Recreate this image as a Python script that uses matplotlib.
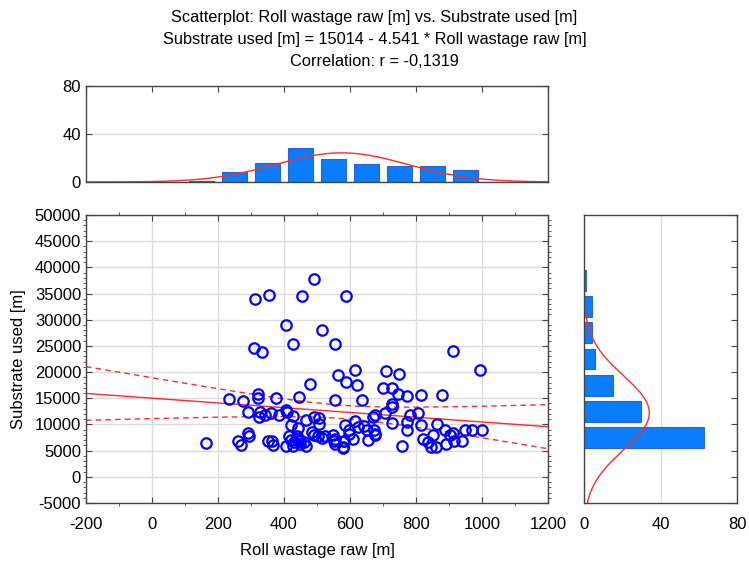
import numpy as np
import matplotlib.pyplot as plt
from matplotlib.ticker import MultipleLocator

plt.rcParams['font.family'] = ['Liberation Sans', 'DejaVu Sans']
plt.rcParams['axes.unicode_minus'] = False

# Roll wastage raw [m]
wastage = np.array([
    492, 312, 355, 455, 588, 407, 514, 427, 556, 310, 334, 912, 993, 616, 709,
    749, 565, 589, 480, 621, 700, 726, 746, 774, 814, 879, 320, 320, 375, 447,
    233, 276, 556, 636, 726, 728, 705, 675, 671, 781, 805, 616, 290, 326, 324,
    344, 361, 386, 407, 410, 426, 468, 492, 505, 505, 773, 728, 863,
    584, 624, 643, 653, 672, 677, 598, 773, 816, 889, 911, 948, 971, 1000,
    582, 580, 609, 655, 675, 822, 837, 847, 860, 853, 890, 914, 940, 903, 757,
    422, 442, 485, 165, 260, 269, 292, 294, 351, 365, 367, 405, 414, 420, 427,
    438, 446, 462, 468, 491, 503, 523, 549, 551, 555, 581, 578,
    440, 448, 430, 448, 555, 515, 598,
])
# Substrate used [m]
substrate = np.array([
    37800, 34000, 34700, 34500, 34500, 28900, 28000, 25300, 25300, 24600, 23800,
    24000, 20400, 20400, 20200, 19650, 19500, 18100, 17700, 17600, 16900, 16900,
    15800, 15500, 15600, 15600, 15800, 15000, 15000, 15300, 14900, 14550, 14700,
    14700, 13900, 13300, 12150, 11800, 11500, 11800, 12150, 10750, 12300, 12300,
    11500, 11850, 12200, 11850, 12800, 12350, 11650, 10900, 11500, 11200, 10100,
    10500, 10200, 10000,
    9850, 9600, 9700, 8850, 9000, 8200, 8850, 8850, 9850, 9000, 8350, 9000, 9000,
    9000, 6800, 5550, 7200, 7050, 7950, 7200, 6700, 5650, 5650, 7950, 6250, 6900,
    6900, 8050, 5800, 9800, 9400, 8600, 6550, 6900, 6050, 8400, 7800, 6900, 6900,
    6050, 5800, 7700, 7050, 5900, 7700, 6750, 6600, 5800, 7950, 7800, 7800, 7950,
    6750, 6250, 6750, 5600,
    7300, 7100, 6600, 6200, 7300, 7400, 8200,
])

# histogram of wastage, 100 m bins
wastage_bins = [150, 250, 350, 450, 550, 650, 750, 850, 950]
wastage_counts = [1, 8, 16, 28, 19, 15, 13, 13, 10]
# histogram of substrate, 5000 m bins
substrate_bins = [7500, 12500, 17500, 22500, 27500, 32500, 37500]
substrate_counts = [63, 30, 15, 6, 4, 4, 1]

intercept, slope = 15014, -4.541

bar_face = '#0a7dff'
bar_edge = '#2a62d8'
red = '#ff2a2a'
grid_c = '#dcdcdc'
spine_c = '#444444'


def style(ax):
    for s in ax.spines.values():
        s.set_color(spine_c)
        s.set_linewidth(1.0)
    ax.tick_params(direction='in', colors=spine_c, labelcolor='black', labelsize=12)
    ax.set_axisbelow(True)


fig = plt.figure(figsize=(7.49, 5.62), dpi=100)
ax = fig.add_axes([0.1148, 0.105, 0.6168, 0.5125])
ax_top = fig.add_axes([0.1148, 0.6762, 0.6168, 0.1708])
ax_right = fig.add_axes([0.7797, 0.105, 0.2043, 0.5125])

# main scatter
xs = np.linspace(-200, 1200, 200)
fit = intercept + slope * xs
n = len(wastage)
resid = substrate - (intercept + slope * wastage)
s = np.sqrt(np.sum(resid ** 2) / (n - 2))
sxx = np.sum((wastage - wastage.mean()) ** 2)
half = 1.98 * s * np.sqrt(1 / n + (xs - wastage.mean()) ** 2 / sxx)

ax.plot(wastage, substrate, 'o', mfc='none', mec='#0000ff', mew=1.6, ms=7.5, zorder=3)
ax.plot(xs, fit, color=red, lw=1)
ax.plot(xs, fit + half, color=red, lw=1, ls=(0, (4, 3)))
ax.plot(xs, fit - half, color=red, lw=1, ls=(0, (4, 3)))
ax.set_xlim(-200, 1200)
ax.set_ylim(-5000, 50000)
ax.xaxis.set_major_locator(MultipleLocator(200))
ax.xaxis.set_minor_locator(MultipleLocator(100))
ax.yaxis.set_major_locator(MultipleLocator(5000))
ax.yaxis.set_minor_locator(MultipleLocator(1000))
ax.grid(True, color=grid_c, lw=1)
style(ax)
ax.tick_params(which='both', top=True, right=True)
ax.tick_params(which='major', length=4)
ax.tick_params(which='minor', length=2, color=spine_c)
ax.tick_params(axis='x', pad=10)
ax.set_xlabel('Roll wastage raw [m]', fontsize=12, labelpad=8)
ax.set_ylabel('Substrate used [m]', fontsize=12, labelpad=6)

# top histogram
mx, sx = wastage.mean(), wastage.std(ddof=1)
ax_top.bar(wastage_bins, wastage_counts, width=78, color=bar_face, edgecolor=bar_edge, lw=0.8)
ax_top.plot(xs, n * 100 / (sx * np.sqrt(2 * np.pi)) * np.exp(-0.5 * ((xs - mx) / sx) ** 2),
            color=red, lw=1)
ax_top.set_xlim(-200, 1200)
ax_top.set_ylim(0, 80)
ax_top.set_yticks([0, 40, 80])
ax_top.xaxis.set_major_locator(MultipleLocator(200))
ax_top.grid(True, axis='y', color=grid_c, lw=1)
style(ax_top)
ax_top.tick_params(top=True, bottom=False, right=True, labelbottom=False, length=4)

# right histogram
my, sy = substrate.mean(), substrate.std(ddof=1)
ys = np.linspace(-5000, 50000, 300)
ax_right.barh(substrate_bins, substrate_counts, height=4000, color=bar_face,
              edgecolor=bar_edge, lw=0.8)
ax_right.plot(n * 5000 / (sy * np.sqrt(2 * np.pi)) * np.exp(-0.5 * ((ys - my) / sy) ** 2), ys,
              color=red, lw=1)
ax_right.set_xlim(0, 80)
ax_right.set_ylim(-5000, 50000)
ax_right.set_xticks([0, 40, 80])
ax_right.yaxis.set_major_locator(MultipleLocator(5000))
ax_right.grid(True, axis='x', color=grid_c, lw=1)
style(ax_right)
ax_right.tick_params(right=True, left=False, labelleft=False, bottom=False, length=4)
ax_right.tick_params(axis='x', pad=10)

fig.text(0.5, 0.969, 'Scatterplot: Roll wastage raw [m] vs. Substrate used [m]',
         ha='center', va='center', fontsize=11.8)
fig.text(0.5, 0.929, 'Substrate used [m] = 15014 - 4.541 * Roll wastage raw [m]',
         ha='center', va='center', fontsize=11.8)
fig.text(0.5, 0.890, 'Correlation: r = -0,1319', ha='center', va='center', fontsize=11.8)

fig.savefig('out.png', dpi=100)
